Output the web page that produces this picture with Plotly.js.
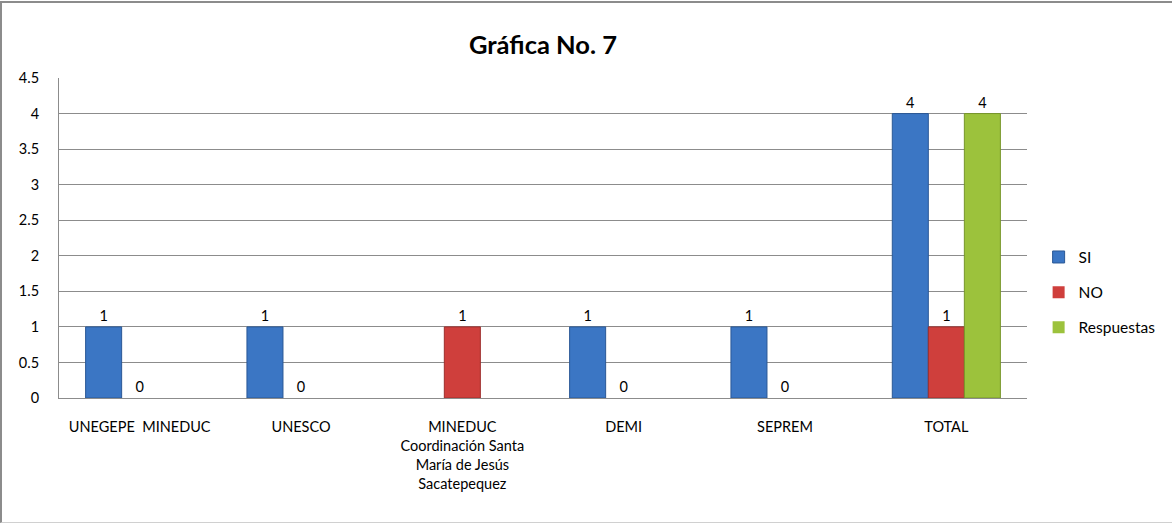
<!DOCTYPE html>
<html>
<head>
<meta charset="utf-8">
<script src="https://cdn.plot.ly/plotly-3.0.1.min.js"></script>
<style>
  html, body { margin:0; padding:0; background:#fff; }
  #wrap { position:relative; width:1172px; height:525px; }
  #chart { width:1172px; height:525px; }
  #frame { position:absolute; left:0; top:1px; width:1180px; height:522px;
           border-top:2px solid #8c8c8c; border-left:2px solid #8c8c8c; border-bottom:1px solid #d0d0d0;
           pointer-events:none; box-sizing:border-box; }
</style>
</head>
<body>
<div id="wrap">
  <div id="chart"></div>
  <div id="frame"></div>
</div>
<script>
const categories = [
  "UNEGEPE  MINEDUC",
  "UNESCO",
  "MINEDUC<br>Coordinación Santa<br>María de Jesús<br>Sacatepequez",
  "DEMI",
  "SEPREM",
  "TOTAL"
];
const siValues = [1, 1, null, 1, 1, 4];
const noValues = [0, 0, 1, 0, 0, 1];
const respuestasValues = [null, null, null, null, null, 4];
const yTicks = [0, 0.5, 1, 1.5, 2, 2.5, 3, 3.5, 4, 4.5];
const yTickLabels = ["0", "0.5", "1", "1.5", "2", "2.5", "3", "3.5", "4", "4.5"];

const FONT = "Lato, 'Open Sans', sans-serif";

function labels(arr) { return arr.map(v => v === null ? "" : String(v)); }

function mk(name, vals, color, line, grp) {
  return {
    type: "bar", name: name, x: categories, y: vals,
    text: labels(vals), textposition: "outside", cliponaxis: false,
    textfont: { family: FONT, size: 14.5, color: "#000" },
    marker: { color: color, line: { color: line, width: vals.map(v => v ? 1 : 0) } },
    legendgroup: grp, hoverinfo: "x+y"
  };
}

const data = [
  mk("SI", siValues, "#3b76c4", "#2a5896", "g1"),
  mk("NO", noValues, "#cf3f3c", "#9e2e2c", "g2"),
  mk("Respuestas", respuestasValues, "#9cc23c", "#77962a", "g3")
];

const layout = {
  width: 1172, height: 525,
  margin: { l: 59, r: 145, t: 78, b: 127, autoexpand: false },
  paper_bgcolor: "#fff", plot_bgcolor: "#fff",
  barmode: "group", bargap: 0.33, bargroupgap: 0,
  title: { text: "<b>Gráfica No. 7</b>", x: 0.5, xref: "paper", y: 0.915, yanchor: "middle",
           font: { family: FONT, size: 25.5, color: "#000" } },
  font: { family: FONT, size: 14.5, color: "#000" },
  xaxis: {
    type: "category", showgrid: false, showline: true, linecolor: "#8c8c8c", linewidth: 1,
    ticks: "", tickfont: { family: FONT, size: 14.5, color: "#000" }, ticklabelstandoff: 16,
    fixedrange: true, automargin: false
  },
  yaxis: {
    range: [0, 4.5], tickmode: "array", tickvals: yTicks, ticktext: yTickLabels,
    showgrid: true, gridcolor: "#8c8c8c", gridwidth: 1, showline: true, linecolor: "#8c8c8c",
    zeroline: false, ticks: "", ticklabelstandoff: 16,
    tickfont: { family: FONT, size: 14.5, color: "#000" }, fixedrange: true, automargin: false
  },
  legend: {
    x: 1.012, xanchor: "left", y: 0.33, yanchor: "middle",
    font: { family: FONT, size: 15.5, color: "#000" },
    tracegroupgap: 12, traceorder: "grouped", bgcolor: "rgba(0,0,0,0)"
  },
  showlegend: true
};

Plotly.newPlot("chart", data, layout, { displayModeBar: false, staticPlot: true });
</script>
</body>
</html>
